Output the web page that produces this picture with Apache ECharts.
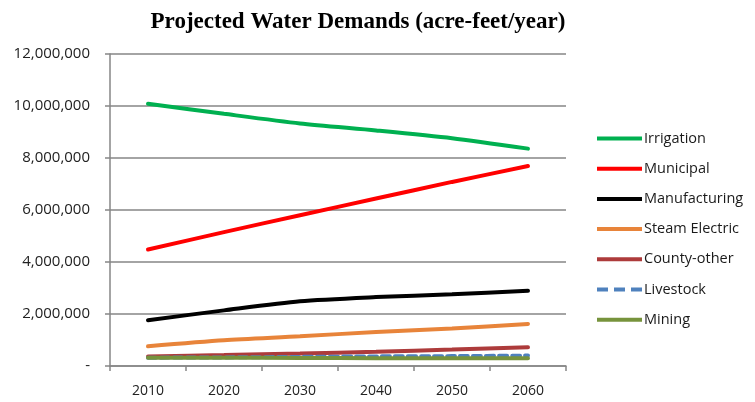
<!DOCTYPE html>
<html>
<head>
<meta charset="utf-8">
<script src="https://cdn.jsdelivr.net/npm/echarts@6/dist/echarts.min.js"></script>
<style>
  html, body { margin: 0; padding: 0; background: #fff; }
  #chart { width: 755px; height: 402px; }
</style>
</head>
<body>
<div id="chart"></div>
<script>
// Projected demand by use category, acre-feet per year
const years = ['2010', '2020', '2030', '2040', '2050', '2060'];
const irrigation    = [10090000, 9700000, 9330000, 9060000, 8760000, 8360000];
const municipal     = [4480000, 5150000, 5800000, 6440000, 7080000, 7690000];
const manufacturing = [1760000, 2140000, 2490000, 2650000, 2760000, 2890000];
const steamElectric = [760000, 990000, 1140000, 1310000, 1440000, 1620000];
const countyOther   = [370000, 420000, 480000, 550000, 630000, 720000];
const livestock     = [320000, 330000, 350000, 370000, 380000, 400000];
const mining        = [320000, 320000, 310000, 300000, 300000, 300000];

const fontUI = '"Open Sans", "Liberation Sans", sans-serif';

// legend swatches: a solid bar, and a three-dash bar for the dashed series
const solidIcon = 'path://M0,0h45v4h-45z';
const dashIcon = 'path://M0,0h11v4h-11z M17,0h11v4h-11z M34,0h11v4h-11z';

function lineSeries(name, data, color, dashed) {
  return {
    name: name,
    type: 'line',
    data: data,
    symbol: 'none',
    smooth: 0.25,
    lineStyle: { color: color, width: 4, type: dashed ? [8, 5] : 'solid', cap: 'round' },
    itemStyle: { color: color }
  };
}

const names = ['Irrigation', 'Municipal', 'Manufacturing', 'Steam Electric', 'County-other', 'Livestock', 'Mining'];

const chart = echarts.init(document.getElementById('chart'));
chart.setOption({
  animation: false,
  backgroundColor: '#ffffff',
  title: {
    text: 'Projected Water Demands (acre-feet/year)',
    left: 353,
    textAlign: 'center',
    top: 6,
    textStyle: {
      fontFamily: '"Liberation Serif", "DejaVu Serif", serif',
      fontWeight: 'bold',
      fontSize: 23,
      color: '#000'
    }
  },
  legend: {
    orient: 'vertical',
    left: 592,
    top: 126,
    itemWidth: 45,
    itemHeight: 4,
    itemGap: 15.2,
    textStyle: { fontFamily: fontUI, fontSize: 14.5, lineHeight: 14, color: '#1a1a1a', padding: [0, 0, 0, -3] },
    data: names.map(function (n) { return { name: n, icon: n === 'Livestock' ? dashIcon : solidIcon }; })
  },
  grid: { left: 110, right: 189, top: 54, bottom: 36 },
  xAxis: {
    type: 'category',
    data: years,
    boundaryGap: true,
    axisLine: { lineStyle: { color: '#868686', width: 1.5 } },
    axisTick: { show: true, length: 5, lineStyle: { color: '#868686', width: 1.5 } },
    axisLabel: { fontFamily: fontUI, fontSize: 14, color: '#222', margin: 18 }
  },
  yAxis: {
    type: 'value',
    min: 0,
    max: 12000000,
    interval: 2000000,
    axisLine: { show: true, lineStyle: { color: '#868686', width: 1.5 } },
    axisTick: { show: true, length: 5, lineStyle: { color: '#868686', width: 1.5 } },
    splitLine: { lineStyle: { color: '#868686', width: 1.5 } },
    axisLabel: {
      fontFamily: fontUI,
      fontSize: 15,
      color: '#222',
      margin: 20,
      formatter: function (v) { return v === 0 ? '-' : v.toLocaleString('en-US'); }
    }
  },
  series: [
    lineSeries('Irrigation', irrigation, '#00B050'),
    lineSeries('Municipal', municipal, '#FF0000'),
    lineSeries('Manufacturing', manufacturing, '#000000'),
    lineSeries('Steam Electric', steamElectric, '#E8843A'),
    lineSeries('County-other', countyOther, '#AD3B3B'),
    lineSeries('Livestock', livestock, '#4F81BD', true),
    lineSeries('Mining', mining, '#77933C')
  ]
});
</script>
</body>
</html>
